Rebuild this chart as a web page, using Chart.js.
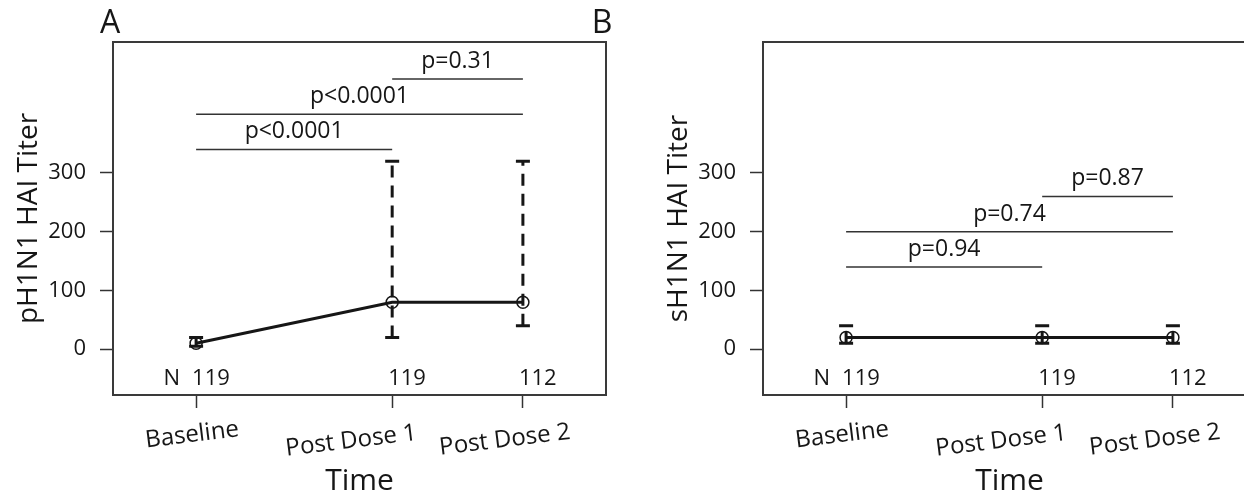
<!DOCTYPE html>
<html>
<head>
<meta charset="utf-8">
<script src="https://cdn.jsdelivr.net/npm/chart.js@4.4.1/dist/chart.umd.min.js"></script>
<style>
  html, body { margin: 0; padding: 0; background: #fff; overflow: hidden; }
  body { width: 1244px; height: 494px; position: relative; }
  canvas { position: absolute; top: 0; }
  #chartA { left: 0; }
  #chartB { left: 580px; }
</style>
</head>
<body>
<canvas id="chartA" width="620" height="494"></canvas>
<canvas id="chartB" width="700" height="494"></canvas>
<script>
// time points (days since baseline) and labels
const timeLabels = ['Baseline', 'Post Dose 1', 'Post Dose 2'];
const timeDays = [0, 21, 35];
const nCounts = [119, 119, 112];
const yTicks = [0, 100, 200, 300];

// panel A: pH1N1 titers (median, IQR)
const pMedian = [10, 80, 80];
const pLower = [5, 20, 40];
const pUpper = [20, 320, 320];
const pPairs = [[0, 1], [0, 2], [1, 2]];
const pLevels = [340, 400, 460];
const pTexts = ['p<0.0001', 'p<0.0001', 'p=0.31'];

// panel B: sH1N1 titers
const sMedian = [20, 20, 20];
const sLower = [10, 10, 10];
const sUpper = [40, 40, 40];
const sPairs = [[0, 1], [0, 2], [1, 2]];
const sLevels = [140, 200, 260];
const sTexts = ['p=0.94', 'p=0.74', 'p=0.87'];

const INK = '#161616';
const FONT = "'Open Sans', sans-serif";
// label nudges below the axis (dx, dy from tick / box bottom)
const labelShift = [[-4, 40], [-41, 46], [-18, 45]];

Chart.defaults.font.family = FONT;
Chart.defaults.color = INK;

const decor = cfg => ({
  id: 'decor',
  afterDatasetsDraw(chart) {
    const ctx = chart.ctx;
    const x = chart.scales.x, y = chart.scales.y;
    const a = chart.chartArea;
    ctx.save();

    // frame
    ctx.strokeStyle = '#3a3a3a';
    ctx.lineWidth = 2;
    ctx.strokeRect(a.left, a.top, a.right - a.left, a.bottom - a.top);

    // error bars (IQR), dashed with solid caps
    ctx.strokeStyle = INK;
    ctx.lineWidth = 3;
    cfg.lower.forEach((lo, i) => {
      const px = x.getPixelForValue(timeDays[i]);
      const y0 = y.getPixelForValue(lo);
      const y1 = y.getPixelForValue(cfg.upper[i]);
      ctx.setLineDash([12, 8]);
      ctx.beginPath();
      ctx.moveTo(px, y0);
      ctx.lineTo(px, y1);
      ctx.stroke();
      ctx.setLineDash([]);
      ctx.beginPath();
      ctx.moveTo(px - 7, y0); ctx.lineTo(px + 7, y0);
      ctx.moveTo(px - 7, y1); ctx.lineTo(px + 7, y1);
      ctx.stroke();
    });

    // p-value brackets
    ctx.strokeStyle = '#333';
    ctx.lineWidth = 1.5;
    ctx.fillStyle = INK;
    ctx.font = `23px ${FONT}`;
    ctx.textAlign = 'center';
    ctx.textBaseline = 'alphabetic';
    cfg.pairs.forEach(([i, j], k) => {
      const x0 = x.getPixelForValue(timeDays[i]);
      const x1 = x.getPixelForValue(timeDays[j]);
      const py = y.getPixelForValue(cfg.levels[k]);
      ctx.beginPath();
      ctx.moveTo(x0, py);
      ctx.lineTo(x1, py);
      ctx.stroke();
      ctx.fillText(cfg.texts[k], (x0 + x1) / 2, py - 11);
    });

    // sample sizes
    ctx.font = `22px ${FONT}`;
    ctx.textAlign = 'left';
    timeDays.forEach((d, i) => {
      ctx.fillText(String(nCounts[i]), x.getPixelForValue(d) - 4, a.bottom - 10);
    });
    ctx.textAlign = 'right';
    ctx.fillText('N', x.getPixelForValue(timeDays[0]) - 16, a.bottom - 10);

    // slanted time labels
    ctx.font = `24px ${FONT}`;
    ctx.textAlign = 'center';
    ctx.textBaseline = 'middle';
    timeLabels.forEach((t, i) => {
      const px = x.getPixelForValue(timeDays[i]) + labelShift[i][0];
      ctx.save();
      ctx.translate(px, a.bottom + labelShift[i][1]);
      ctx.rotate(-7 * Math.PI / 180);
      ctx.fillText(t, 0, 0);
      ctx.restore();
    });

    // panel letter
    ctx.font = `32px ${FONT}`;
    ctx.textAlign = 'center';
    ctx.textBaseline = 'alphabetic';
    ctx.fillText(cfg.letter, cfg.letterX, 33);
    ctx.restore();
  }
});

function makeChart(id, cfg) {
  return new Chart(document.getElementById(id), {
    type: 'line',
    data: {
      datasets: [{
        data: timeDays.map((d, i) => ({ x: d, y: cfg.median[i] })),
        borderColor: INK,
        borderWidth: 3,
        pointRadius: 6,
        pointBorderWidth: 1.5,
        pointBackgroundColor: 'rgba(0,0,0,0)',
        pointBorderColor: INK,
        tension: 0,
        clip: false
      }]
    },
    options: {
      responsive: false,
      animation: false,
      devicePixelRatio: 1,
      layout: { padding: { top: 42, bottom: 0, left: cfg.padLeft, right: cfg.padRight } },
      plugins: { legend: { display: false }, tooltip: { enabled: false } },
      scales: {
        x: {
          type: 'linear',
          min: -8.9,
          max: 43.9,
          afterBuildTicks: s => { s.ticks = timeDays.map(v => ({ value: v })); },
          afterFit: s => { s.height = 99; },
          border: { display: false },
          grid: { drawOnChartArea: false, drawTicks: true, tickLength: 13, tickColor: '#333', tickWidth: 1.5 },
          ticks: { display: false },
          title: { display: true, text: 'Time', font: { size: 30, lineHeight: 0.85 }, color: INK, padding: 0 }
        },
        y: {
          min: -78,
          max: 523,
          afterBuildTicks: s => { s.ticks = yTicks.map(v => ({ value: v })); },
          afterFit: s => { s.width = 113; },
          border: { display: false },
          grid: { drawOnChartArea: false, drawTicks: true, tickLength: 13, tickColor: '#333', tickWidth: 1.5 },
          ticks: { padding: 14, font: { size: 22 }, color: INK },
          title: { display: true, text: cfg.yTitle, font: { size: 28 }, color: INK, padding: { top: 12, bottom: 0 } }
        }
      }
    },
    plugins: [decor(cfg)]
  });
}

makeChart('chartA', {
  median: pMedian, lower: pLower, upper: pUpper,
  pairs: pPairs, levels: pLevels, texts: pTexts,
  yTitle: 'pH1N1 HAI Titer', letter: 'A', letterX: 110, padLeft: 0, padRight: 14
});
makeChart('chartB', {
  median: sMedian, lower: sLower, upper: sUpper,
  pairs: sPairs, levels: sLevels, texts: sTexts,
  yTitle: 'sH1N1 HAI Titer', letter: 'B', letterX: 22, padLeft: 70, padRight: 24
});
</script>
</body>
</html>
